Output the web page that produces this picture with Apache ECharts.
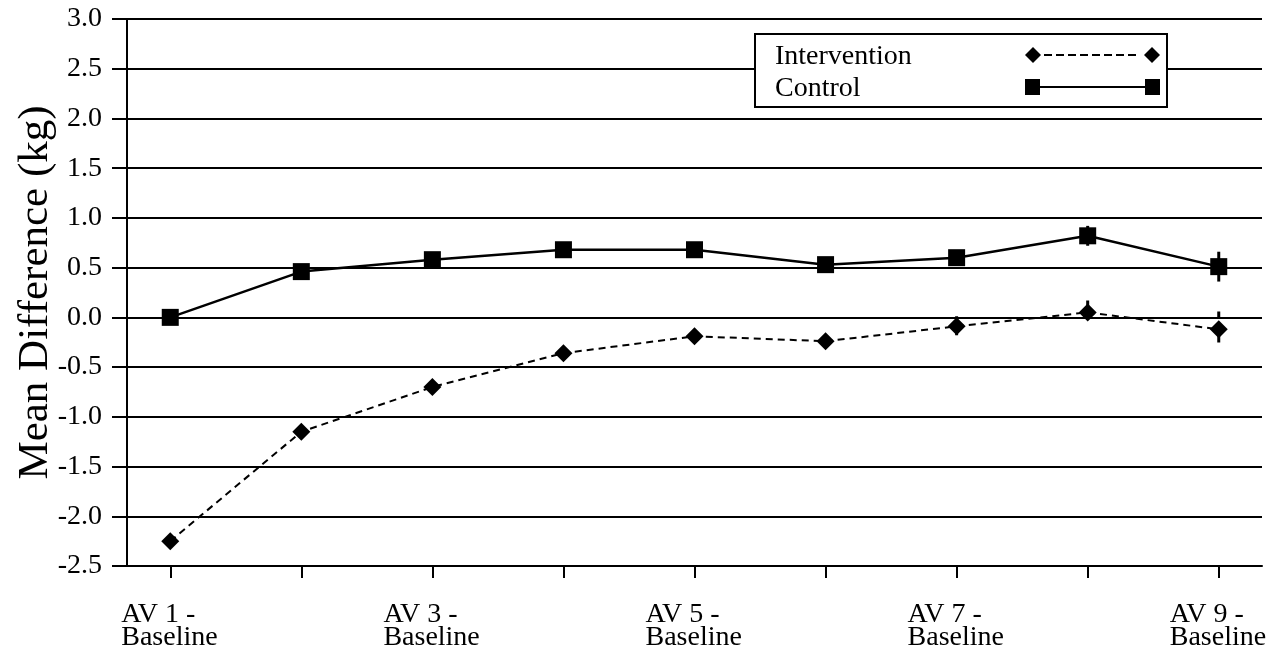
<!DOCTYPE html>
<html>
<head>
<meta charset="utf-8">
<script src="https://cdn.jsdelivr.net/npm/echarts@6/dist/echarts.min.js"></script>
<style>
html,body{margin:0;padding:0;background:#fff;}
#chart{width:1285px;height:656px;}
</style>
</head>
<body>
<div id="chart"></div>
<script>
// ---- data ----
var categories = ['AV 1 - Baseline','AV 2 - Baseline','AV 3 - Baseline','AV 4 - Baseline','AV 5 - Baseline','AV 6 - Baseline','AV 7 - Baseline','AV 8 - Baseline','AV 9 - Baseline'];
var labelPositions = [1, 3, 5, 7, 9];
var interventionValues = [-2.25, -1.15, -0.70, -0.36, -0.19, -0.24, -0.09, 0.05, -0.12];
var controlValues = [0.00, 0.46, 0.58, 0.68, 0.68, 0.53, 0.60, 0.82, 0.51];
var interventionErr = [0, 0, 0, 0, 0, 0, 0.10, 0.12, 0.18];
var controlErr = [0, 0, 0, 0, 0, 0, 0, 0.10, 0.15];
var seriesNames = ['Intervention', 'Control'];

function pairs(vals) { return vals.map(function (v, i) { return [i + 1, v]; }); }
function errData(vals, errs) {
  var out = [];
  vals.forEach(function (v, i) { if (errs[i] > 0) out.push([i + 1, v, errs[i]]); });
  return out;
}
function errRender(dashed) {
  return function (params, api) {
    var x = api.value(0), y = api.value(1), e = api.value(2);
    var p1 = api.coord([x, y + e]);
    var p2 = api.coord([x, y - e]);
    return {
      type: 'line',
      shape: { x1: p1[0], y1: p1[1], x2: p2[0], y2: p2[1] },
      style: { stroke: '#000', lineWidth: 3, lineDash: dashed ? [7, 5] : null }
    };
  };
}

var FONT = '"Liberation Serif", "Times New Roman", serif';
var diamondIcon = 'path://M0 8L8 0L16 8L8 16Z M119 8L127 0L135 8L127 16Z M19 7h8v2h-8Z M31 7h8v2h-8Z M43 7h8v2h-8Z M55 7h8v2h-8Z M67 7h8v2h-8Z M79 7h8v2h-8Z M91 7h8v2h-8Z M103 7h8v2h-8Z';
var squareIcon = 'path://M0 0h15v16h-15Z M120 0h15v16h-15Z M15 7h105v2h-105Z';

var chart = echarts.init(document.getElementById('chart'), null, { renderer: 'canvas' });
chart.setOption({
  backgroundColor: '#fff',
  animation: false,
  grid: { left: 127, right: 23, top: 19, bottom: 90 },
  legend: {
    left: 755, top: 34,
    orient: 'vertical',
    align: 'right',
    itemWidth: 135, itemHeight: 16,
    itemGap: 0,
    padding: [5, 7, 4, 20],
    borderColor: '#000', borderWidth: 2,
    backgroundColor: '#fff',
    data: [
      { name: seriesNames[0], icon: diamondIcon },
      { name: seriesNames[1], icon: squareIcon }
    ],
    formatter: function (n) { return '{a|' + n + '}'; },
    textStyle: {
      fontFamily: FONT, fontSize: 28, color: '#000',
      rich: { a: { width: 245, align: 'left', fontFamily: FONT, fontSize: 28, lineHeight: 26, padding: [4, 0, 0, 0], color: '#000' } }
    },
    itemStyle: { color: '#000' },
    selectedMode: false
  },
  xAxis: {
    type: 'value',
    min: 0.67, max: 9.33,
    splitLine: { show: false },
    axisLine: { show: true, onZero: false, lineStyle: { color: '#000', width: 2 } },
    axisTick: { show: true, customValues: categories.map(function (c, i) { return i + 1; }), length: 12, lineStyle: { color: '#000', width: 2 } },
    axisLabel: {
      customValues: labelPositions,
      margin: 37,
      formatter: function (v) {
        var s = categories[Math.round(v) - 1] || '';
        var parts = s.split(' - ');
        return '{a|' + parts[0] + ' -}\n{a|' + parts[1] + '}';
      },
      rich: { a: { width: 98, align: 'left', fontFamily: FONT, fontSize: 28, lineHeight: 23, color: '#000' } }
    }
  },
  yAxis: {
    type: 'value',
    min: -2.5, max: 3.0, interval: 0.5,
    name: 'Mean Difference (kg)',
    nameLocation: 'middle',
    nameGap: 70,
    nameRotate: 90,
    nameMoveOverlap: false,
    nameTextStyle: { fontFamily: FONT, fontSize: 43, color: '#000' },
    axisLine: { show: true, lineStyle: { color: '#000', width: 2 } },
    axisTick: { show: true, inside: false, length: 15, lineStyle: { color: '#000', width: 2 } },
    splitLine: { show: true, lineStyle: { color: '#000', width: 2 } },
    axisLabel: {
      margin: 25,
      fontFamily: FONT, fontSize: 28, color: '#000',
      formatter: function (v) { return v.toFixed(1); }
    }
  },
  series: [
    {
      name: seriesNames[0], type: 'line', data: pairs(interventionValues),
      symbol: 'diamond', symbolSize: 18,
      itemStyle: { color: '#000' },
      lineStyle: { color: '#000', width: 2, type: [7, 5] },
      z: 3
    },
    {
      name: seriesNames[1], type: 'line', data: pairs(controlValues),
      symbol: 'rect', symbolSize: 17,
      itemStyle: { color: '#000' },
      lineStyle: { color: '#000', width: 2.5 },
      z: 3
    },
    {
      name: 'intervention-err', type: 'custom', data: errData(interventionValues, interventionErr),
      renderItem: errRender(true), z: 2, silent: true
    },
    {
      name: 'control-err', type: 'custom', data: errData(controlValues, controlErr),
      renderItem: errRender(false), z: 2, silent: true
    }
  ]
});
</script>
</body>
</html>
